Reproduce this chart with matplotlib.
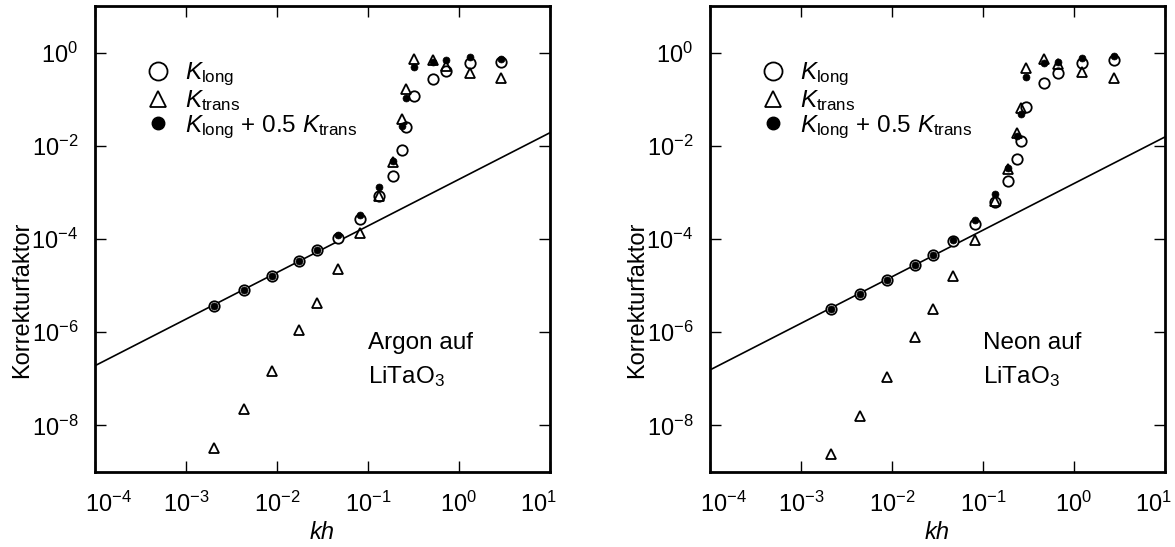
import math
import matplotlib
matplotlib.use("Agg")
import matplotlib.pyplot as plt
from matplotlib.lines import Line2D
from matplotlib.ticker import FixedLocator, FuncFormatter, NullLocator
from matplotlib.transforms import ScaledTranslation

plt.rcParams['font.family'] = ['Liberation Sans', 'DejaVu Sans']
plt.rcParams['mathtext.fontset'] = 'custom'
plt.rcParams['mathtext.rm'] = 'Liberation Sans'
plt.rcParams['mathtext.it'] = 'Liberation Sans:italic'
plt.rcParams['mathtext.bf'] = 'Liberation Sans:bold'

# ---------------- data: Argon on LiTaO3 ----------------
kh_ar = [0.00205, 0.00438, 0.00875, 0.0175, 0.0277, 0.0472, 0.0817, 0.133,
         0.187, 0.234, 0.26, 0.323, 0.522, 0.72, 1.32, 2.87]
K_long_ar = [3.7e-6, 8.1e-6, 1.6e-5, 3.4e-5, 5.7e-5, 1.07e-4, 2.65e-4, 8.3e-4,
             2.2e-3, 8.3e-3, 0.025, 0.117, 0.27, 0.40, 0.61, 0.64]
K_trans_ar = [3.2e-9, 2.2e-8, 1.5e-7, 1.1e-6, 4.3e-6, 2.3e-5, 1.35e-4, 8.5e-4,
              4.6e-3, 0.037, 0.163, 0.72, 0.68, 0.52, 0.36, 0.28]
K_sum_ar = [3.7e-6, 8.1e-6, 1.6e-5, 3.4e-5, 5.7e-5, 1.2e-4, 3.3e-4, 1.3e-3,
            4.7e-3, 0.027, 0.104, 0.49, 0.62, 0.68, 0.80, 0.74]
line_kh = [1e-4, 1e1]
line_K_ar = [1.91e-7, 1.91e-2]

# ---------------- data: Neon on LiTaO3 ----------------
kh_ne = [0.00212, 0.00445, 0.0089, 0.0179, 0.0284, 0.0472, 0.0822, 0.136,
         0.19, 0.238, 0.263, 0.297, 0.472, 0.67, 1.22, 2.75]
K_long_ne = [3.1e-6, 6.6e-6, 1.33e-5, 2.8e-5, 4.6e-5, 8.9e-5, 2.13e-4, 6.2e-4,
             1.73e-3, 5.1e-3, 0.0126, 0.069, 0.22, 0.36, 0.61, 0.69]
K_trans_ne = [2.4e-9, 1.6e-8, 1.08e-7, 8.0e-7, 3.2e-6, 1.57e-5, 9.7e-5, 6.5e-4,
              3.2e-3, 0.019, 0.065, 0.475, 0.72, 0.56, 0.38, 0.28]
K_sum_ne = [3.1e-6, 6.6e-6, 1.33e-5, 2.8e-5, 4.6e-5, 9.6e-5, 2.6e-4, 9.4e-4,
            3.3e-3, 0.016, 0.047, 0.30, 0.61, 0.63, 0.78, 0.85]
line_K_ne = [1.55e-7, 1.55e-2]

x_ticks = [1e-4, 1e-3, 1e-2, 1e-1, 1e0, 1e1]
y_ticks = [1e-8, 1e-6, 1e-4, 1e-2, 1e0]
panel_texts = ["Argon auf\nLiTaO$_3$", "Neon auf\nLiTaO$_3$"]

labels = [r'$\mathit{K}_{\mathrm{long}}$',
          r'$\mathit{K}_{\mathrm{trans}}$',
          r'$\mathit{K}_{\mathrm{long}}$ + 0.5 $\mathit{K}_{\mathrm{trans}}$']


def fmt(v, pos):
    e = int(round(math.log10(v)))
    return r'$\mathregular{10^{%d}}$' % e


fig = plt.figure(figsize=(11.75, 5.47), dpi=100)
W, H = 1175, 547
ax1 = fig.add_axes([95 / W, (H - 472) / H, 455 / W, 466 / H])
ax2 = fig.add_axes([710 / W, (H - 472) / H, 455 / W, 466 / H])

datasets = [
    (ax1, kh_ar, K_long_ar, K_trans_ar, K_sum_ar, line_K_ar, panel_texts[0]),
    (ax2, kh_ne, K_long_ne, K_trans_ne, K_sum_ne, line_K_ne, panel_texts[1]),
]

for ax, kh, kl, kt, ks, lk, txt in datasets:
    ax.set_xscale('log')
    ax.set_yscale('log')
    ax.set_xlim(1e-4, 1e1)
    ax.set_ylim(1e-9, 1e1)
    ax.plot(line_kh, lk, color='black', lw=1.2, zorder=2)
    ax.plot(kh, kl, linestyle='none', marker='o', ms=7.5, mfc='white',
            mec='black', mew=1.3, zorder=3)
    ax.plot(kh, kt, linestyle='none', marker='^', ms=7.3, mfc='none',
            mec='black', mew=1.3, zorder=4)
    ax.plot(kh, ks, linestyle='none', marker='o', ms=5, mfc='black',
            mec='black', mew=0.5, zorder=5)

    ax.xaxis.set_major_locator(FixedLocator(x_ticks))
    ax.yaxis.set_major_locator(FixedLocator(y_ticks))
    ax.xaxis.set_minor_locator(NullLocator())
    ax.yaxis.set_minor_locator(NullLocator())
    ax.xaxis.set_major_formatter(FuncFormatter(fmt))
    ax.yaxis.set_major_formatter(FuncFormatter(fmt))
    ax.tick_params(which='major', direction='in', length=8, width=1.0,
                   top=True, right=True, labelsize=17)
    ax.tick_params(axis='x', pad=14)
    ax.tick_params(axis='y', pad=12)
    for s in ax.spines.values():
        s.set_linewidth(2.0)

    # edge tick labels pushed inwards, as in the original
    ticks = ax.xaxis.get_major_ticks(len(x_ticks))
    first = ticks[0].label1
    first.set_transform(first.get_transform() +
                        ScaledTranslation(13 / 100, 0, fig.dpi_scale_trans))
    last = ticks[-1].label1
    last.set_transform(last.get_transform() +
                       ScaledTranslation(-12 / 100, 0, fig.dpi_scale_trans))

    ax.set_xlabel('kh', fontsize=17, style='italic', labelpad=3)
    ax.set_ylabel('Korrekturfaktor', fontsize=17)
    ax.yaxis.set_label_coords(-0.135, 0.369)

    ax.text(0.60, 0.30, txt, transform=ax.transAxes, fontsize=17.5,
            ha='left', va='top', linespacing=1.5)

    handles = [
        Line2D([], [], linestyle='none', marker='o', ms=13, mfc='white',
               mec='black', mew=1.3),
        Line2D([], [], linestyle='none', marker='^', ms=12, mfc='none',
               mec='black', mew=1.3),
        Line2D([], [], linestyle='none', marker='o', ms=9, mfc='black',
               mec='black'),
    ]
    ax.legend(handles, labels, loc='upper left', bbox_to_anchor=(0.09, 0.903),
              frameon=False, fontsize=17.5, handlelength=1.0,
              handletextpad=0.6, labelspacing=0.0, borderaxespad=0)

fig.savefig('out.png', dpi=100)
